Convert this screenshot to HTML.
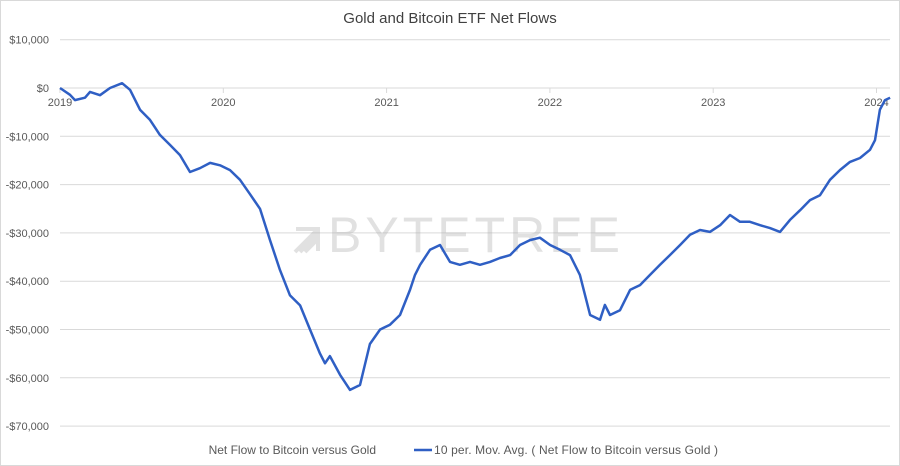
<!DOCTYPE html>
<html><head><meta charset="utf-8"><style>
body{margin:0;background:#fff}
svg{display:block;font-family:"Liberation Sans",sans-serif}
</style></head><body>
<svg id="c" width="900" height="466">
<rect x="0.5" y="0.5" width="899" height="465" fill="#fff" stroke="#d9d9d9"/>
<text x="450" y="23" text-anchor="middle" font-size="15" fill="#404040">Gold and Bitcoin ETF Net Flows</text>
<g id="grid"></g>
<g opacity="0.35">
<path d="M295 252 L318 229 M300 252 L318 234 M305 252 L318 239 M296 229 L318 229 L318 251" stroke="#aaa" stroke-width="4" fill="none"/>
<text x="328" y="252" font-size="50" fill="#aaa" letter-spacing="4">BYTETREE</text>
</g>
<g id="plot"></g>
<g>
<text x="376" y="454" text-anchor="end" font-size="12" fill="#595959">Net Flow to Bitcoin versus Gold</text>
<line x1="414" y1="450" x2="432" y2="450" stroke="#2f5fc4" stroke-width="2.5"/>
<text x="434" y="454" font-size="12" fill="#595959" textLength="284">10 per. Mov. Avg. ( Net Flow to Bitcoin versus Gold )</text>
</g>
</svg>
<script>
const yTicks=[10000,0,-10000,-20000,-30000,-40000,-50000,-60000,-70000];
const yTickLabels=["$10,000","$0","-$10,000","-$20,000","-$30,000","-$40,000","-$50,000","-$60,000","-$70,000"];
const years=[2019,2020,2021,2022,2023,2024];
const xPx=[60,70,75,85,90,100,110,122,130,140,150,160,170,180,190,200,210,220,230,240,250,260,270,280,290,300,310,320,325,330,340,350,360,370,380,390,400,410,415,420,430,440,450,460,470,480,490,500,510,520,530,540,550,560,570,580,590,600,605,610,620,630,640,650,660,670,680,690,700,710,720,730,740,750,760,770,780,790,800,810,820,830,840,850,860,870,875,880,885,890];
const dates=xPx.map(p=>+(2019+(p-60)/163.3).toFixed(3));
const values=[0,-1.4,-2.5,-2,-0.8,-1.5,0,1,-0.4,-4.5,-6.6,-9.7,-11.8,-13.9,-17.4,-16.6,-15.5,-16,-17,-19,-22,-25,-31.5,-37.7,-42.9,-45,-50,-55,-57,-55.5,-59.4,-62.5,-61.5,-53,-50,-49,-47,-41.8,-38.7,-36.6,-33.5,-32.5,-36,-36.6,-36,-36.6,-36,-35.2,-34.6,-32.5,-31.5,-31,-32.5,-33.5,-34.6,-38.7,-47,-48,-44.9,-47,-46,-41.8,-40.8,-38.7,-36.6,-34.6,-32.5,-30.4,-29.4,-29.8,-28.4,-26.3,-27.7,-27.7,-28.4,-29,-29.8,-27.3,-25.3,-23.2,-22.2,-19,-17,-15.3,-14.5,-12.8,-10.8,-4.5,-2.5,-2].map(v=>v*1000);
const X=d=>60+(d-2019)*163.3;
const Y=v=>88-v*48.3/10000;
const NS="http://www.w3.org/2000/svg";
const grid=document.getElementById('grid'),plot=document.getElementById('plot');
yTicks.forEach((t,i)=>{
 const l=document.createElementNS(NS,'line');
 l.setAttribute('x1',60);l.setAttribute('x2',890);l.setAttribute('y1',Y(t));l.setAttribute('y2',Y(t));
 l.setAttribute('stroke','#d9d9d9');
 
 
 grid.appendChild(l);
 const tx=document.createElementNS(NS,'text');
 tx.setAttribute('x',49);tx.setAttribute('y',Y(t)+4);tx.setAttribute('text-anchor','end');
 tx.setAttribute('font-size','11');tx.setAttribute('fill','#595959');
 tx.textContent=yTickLabels[i];
 
 
 grid.appendChild(tx);
});
years.forEach(yr=>{
 const l=document.createElementNS(NS,'line');
 l.setAttribute('x1',X(yr));l.setAttribute('x2',X(yr));l.setAttribute('y1',88);l.setAttribute('y2',93);
 l.setAttribute('stroke','#d9d9d9');
 
 
 grid.appendChild(l);
 const tx=document.createElementNS(NS,'text');
 tx.setAttribute('x',X(yr));tx.setAttribute('y',106);tx.setAttribute('text-anchor','middle');
 tx.setAttribute('font-size','11');tx.setAttribute('fill','#595959');
 tx.textContent=yr;
 
 
 grid.appendChild(tx);
});
const p=document.createElementNS(NS,'path');
p.setAttribute('d',dates.map((d,i)=>(i?'L':'M')+X(d).toFixed(1)+' '+Y(values[i]).toFixed(1)).join(' '));
p.setAttribute('fill','none');p.setAttribute('stroke','#2f5fc4');p.setAttribute('stroke-width','2.5');p.setAttribute('stroke-linejoin','round');


plot.appendChild(p);
</script>
</body></html>
